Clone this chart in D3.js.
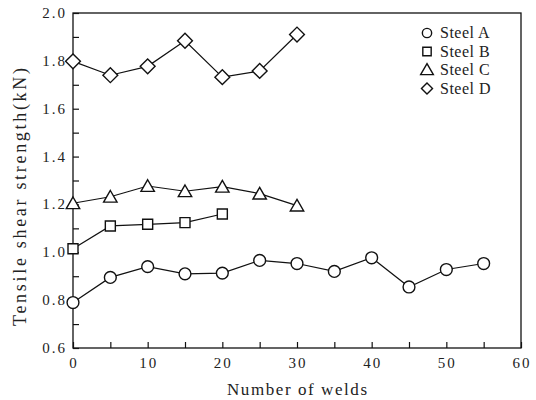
<!DOCTYPE html>
<html>
<head>
<meta charset="utf-8">
<script src="https://cdn.jsdelivr.net/npm/d3@7"></script>
<style>
body { margin: 0; background: #fff; }
svg { display: block; }
</style>
</head>
<body>
<svg id="chart" width="536" height="400"></svg>
<script>
var weldsA = [0, 5, 10, 15, 20, 25, 30, 35, 40, 45, 50, 55];
var steelA = [0.79, 0.895, 0.94, 0.91, 0.913, 0.966, 0.953, 0.92, 0.977, 0.855, 0.928, 0.953];
var weldsB = [0, 5, 10, 15, 20];
var steelB = [1.015, 1.11, 1.117, 1.124, 1.16];
var weldsC = [0, 5, 10, 15, 20, 25, 30];
var steelC = [1.205, 1.232, 1.277, 1.255, 1.274, 1.245, 1.195];
var weldsD = [0, 5, 10, 15, 20, 25, 30];
var steelD = [1.798, 1.74, 1.777, 1.884, 1.732, 1.758, 1.91];
var seriesNames = ["Steel A", "Steel B", "Steel C", "Steel D"];
var xTicks = [0, 10, 20, 30, 40, 50, 60];
var yTicks = [0.6, 0.8, 1.0, 1.2, 1.4, 1.6, 1.8, 2.0];

var FONT = "'Liberation Serif', monospace";
var svg = d3.select('#chart');
var padL = 73, padR = 521, padT = 13, padB = 348;

var xScale = d3.scaleLinear().domain([0, 60]).range([padL, padR]);
var yScale = d3.scaleLinear().domain([0.6, 2.0]).range([padB, padT]);

// frame
svg.append('rect')
	.attr('x', padL).attr('y', padT)
	.attr('width', padR - padL).attr('height', padB - padT)
	.attr('fill', 'none').attr('stroke', '#111').attr('stroke-width', 1.3);

// axes with inward ticks
var xAxis = d3.axisBottom(xScale).tickValues(d3.range(0, 61, 5)).tickSize(-6).tickFormat('');
var yAxis = d3.axisLeft(yScale).tickValues(d3.range(0.6, 2.01, 0.1)).tickSize(-6).tickFormat('');
var gx = svg.append('g').attr('transform', 'translate(0,' + padB + ')').call(xAxis);
var gy = svg.append('g').attr('transform', 'translate(' + padL + ',0)').call(yAxis);
gx.select('.domain').remove();
gy.select('.domain').remove();
svg.selectAll('.tick line').attr('stroke', '#111').attr('stroke-width', 1.2);

svg.append('g').selectAll('text').data(xTicks).enter().append('text')
	.attr('x', function (d) { return xScale(d) + 1; })
	.attr('y', 368)
	.attr('text-anchor', 'middle')
	.attr('font-family', FONT)
	.attr('font-size', 15)
	.attr('letter-spacing', 2)
	.attr('fill', '#222')
	.text(function (d) { return d; });

svg.append('g').selectAll('text').data(yTicks).enter().append('text')
	.attr('x', 67)
	.attr('y', function (d) { return yScale(d) + 5; })
	.attr('text-anchor', 'end')
	.attr('font-family', FONT)
	.attr('font-size', 15)
	.attr('letter-spacing', 2)
	.attr('fill', '#222')
	.text(function (d) { return d.toFixed(1); });

svg.append('text')
	.attr('x', 297).attr('y', 395)
	.attr('text-anchor', 'middle')
	.attr('font-family', FONT).attr('font-size', 17).attr('fill', '#222')
	.attr('textLength', 140).attr('lengthAdjust', 'spacing')
	.text('Number of welds');

svg.append('text')
	.attr('transform', 'translate(26,197) rotate(-90)')
	.attr('text-anchor', 'middle')
	.attr('font-family', FONT).attr('font-size', 18).attr('fill', '#222')
	.attr('textLength', 258).attr('lengthAdjust', 'spacing')
	.text('Tensile shear strength(kN)');

var shapes = [d3.symbolCircle, d3.symbolSquare, d3.symbolTriangle, d3.symbolSquare];
var sizes = [110, 100, 78, 110];
var legendSizes = [68, 70, 70, 61];
var rotations = [0, 0, 0, 45];
var allSeries = [
	{ x: weldsA, y: steelA },
	{ x: weldsB, y: steelB },
	{ x: weldsC, y: steelC },
	{ x: weldsD, y: steelD }
];

var line = d3.line()
	.x(function (d) { return xScale(d[0]); })
	.y(function (d) { return yScale(d[1]); });

allSeries.forEach(function (s, k) {
	var pts = s.x.map(function (v, i) { return [v, s.y[i]]; });
	svg.append('path')
		.datum(pts)
		.attr('d', line)
		.attr('fill', 'none')
		.attr('stroke', '#111')
		.attr('stroke-width', 1.2);
	var sym = d3.symbol().type(shapes[k]).size(sizes[k]);
	svg.append('g').selectAll('path').data(pts).enter().append('path')
		.attr('transform', function (d) {
			var dy = k === 2 ? 1.5 : 0;
			return 'translate(' + xScale(d[0]) + ',' + (yScale(d[1]) + dy) + ') rotate(' + rotations[k] + ')';
		})
		.attr('d', sym)
		.attr('fill', '#fff')
		.attr('stroke', '#111')
		.attr('stroke-width', 1.4);
});

// legend
var legend = svg.append('g').attr('transform', 'translate(427,33)');
seriesNames.forEach(function (name, k) {
	var row = legend.append('g').attr('transform', 'translate(0,' + (k * 18.5) + ')');
	row.append('path')
		.attr('transform', 'translate(0,' + (k === 2 ? 1 : 0) + ') rotate(' + rotations[k] + ')')
		.attr('d', d3.symbol().type(shapes[k]).size(legendSizes[k]))
		.attr('fill', '#fff').attr('stroke', '#111').attr('stroke-width', 1.4);
	row.append('text')
		.attr('x', 13).attr('y', 5)
		.attr('font-family', FONT)
		.attr('font-size', 16)
		.attr('letter-spacing', 0.5)
		.attr('fill', '#222')
		.text(name);
});
</script>
</body>
</html>
